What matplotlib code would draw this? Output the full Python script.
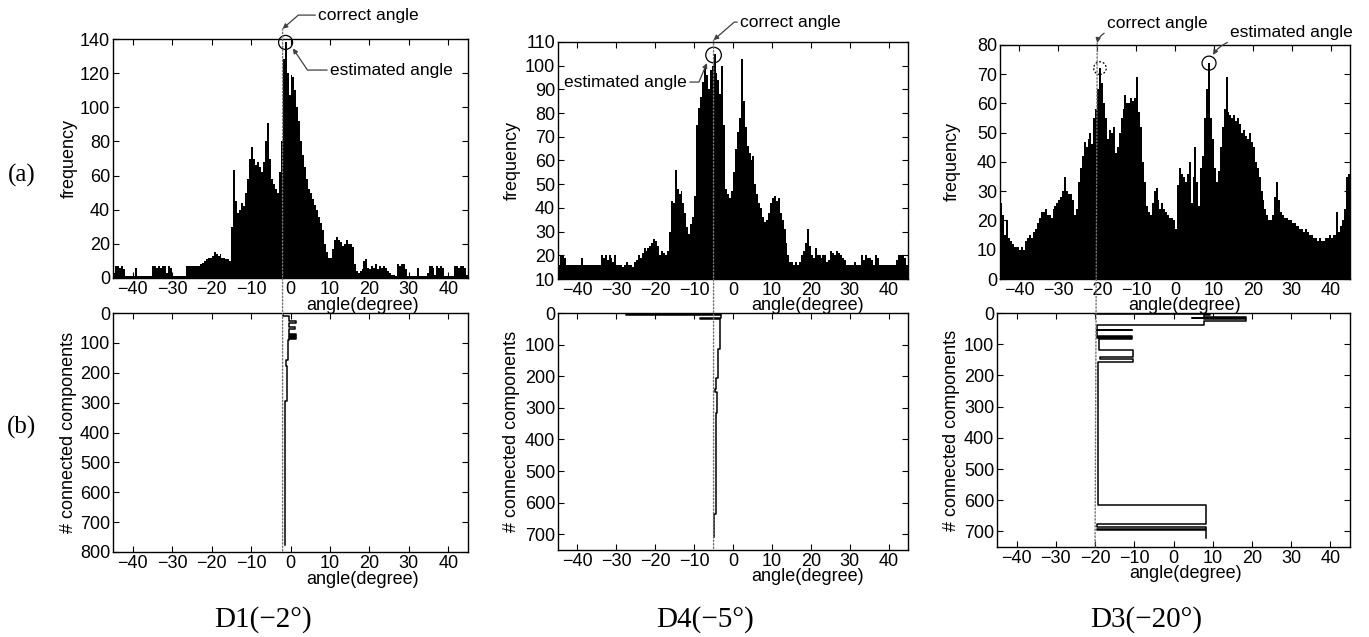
import matplotlib
matplotlib.use("Agg")
import matplotlib.pyplot as plt
import numpy as np
from matplotlib.patches import Circle, ConnectionPatch
from matplotlib.transforms import ScaledTranslation

plt.rcParams["font.family"] = ["Liberation Sans", "DejaVu Sans"]

# histogram bins: 0.5 degree wide, -45 .. 45
BIN_EDGES = np.arange(-45, 45, 0.5)
BIN_WIDTH = 0.5

# (a) angle histograms, frequency per bin
D1_FREQ = [
    3, 7, 7, 6, 7, 5, 1, 1, 1, 1,
    1, 6, 1, 1, 1, 1, 1, 1, 1, 1,
    7, 7, 6, 7, 6, 7, 7, 3, 7, 6,
    1, 1, 1, 1, 1, 1, 1, 7, 7, 7,
    7, 7, 7, 7, 8, 9, 10, 11, 12, 12,
    13, 15, 14, 13, 14, 12, 12, 11, 11, 10,
    30, 63, 45, 38, 40, 44, 42, 50, 58, 70,
    77, 70, 66, 68, 65, 62, 68, 80, 91, 70,
    58, 55, 52, 50, 62, 80, 128, 138, 120, 107,
    119, 118, 110, 100, 92, 80, 72, 65, 58, 52,
    50, 46, 43, 40, 36, 32, 28, 20, 15, 12,
    12, 17, 22, 24, 22, 21, 19, 20, 22, 20,
    20, 18, 8, 4, 3, 4, 5, 10, 11, 6,
    5, 7, 6, 8, 5, 7, 6, 7, 6, 4,
    3, 2, 2, 1, 8, 7, 8, 8, 5, 1,
    1, 1, 1, 1, 6, 1, 1, 1, 1, 3,
    7, 7, 6, 2, 7, 6, 7, 6, 1, 1,
    1, 1, 1, 7, 7, 6, 7, 7, 6, 2,
]
D4_FREQ = [
    16, 20, 20, 19, 16, 16, 16, 16, 16, 16,
    16, 16, 19, 16, 16, 16, 16, 16, 16, 16,
    16, 16, 20, 19, 20, 18, 20, 19, 17, 20,
    16, 16, 16, 15, 16, 17, 16, 16, 15, 17,
    18, 20, 19, 21, 23, 22, 23, 24, 25, 27,
    26, 24, 20, 22, 21, 20, 22, 30, 43, 42,
    56, 48, 46, 47, 42, 38, 32, 29, 33, 36,
    45, 75, 82, 87, 93, 99, 96, 90, 98, 100,
    105, 97, 94, 88, 100, 75, 48, 46, 44, 47,
    55, 65, 72, 78, 103, 85, 74, 66, 63, 60,
    62, 50, 46, 42, 40, 36, 34, 35, 38, 42,
    44, 45, 43, 44, 38, 35, 31, 25, 20, 17,
    17, 16, 17, 16, 17, 20, 22, 25, 31, 24,
    20, 19, 23, 20, 20, 19, 20, 20, 17, 18,
    22, 21, 20, 22, 21, 20, 19, 18, 16, 16,
    16, 16, 17, 16, 16, 16, 20, 18, 20, 19,
    19, 18, 16, 20, 19, 16, 16, 16, 16, 16,
    16, 16, 16, 16, 18, 20, 20, 20, 19, 16,
]
D3_FREQ = [
    26, 22, 15, 20, 14, 13, 12, 11, 11, 11,
    10, 11, 10, 13, 14, 15, 14, 16, 17, 19,
    21, 23, 23, 24, 22, 22, 21, 24, 25, 26,
    27, 28, 30, 35, 30, 29, 29, 27, 22, 24,
    33, 38, 42, 47, 45, 48, 50, 46, 55, 58,
    65, 72, 67, 60, 55, 48, 51, 50, 52, 43,
    45, 50, 55, 58, 63, 60, 60, 62, 61, 62,
    69, 57, 52, 40, 33, 25, 23, 22, 26, 30,
    31, 27, 24, 26, 24, 23, 22, 21, 21, 20,
    17, 32, 38, 36, 35, 33, 36, 40, 26, 35,
    45, 33, 25, 38, 42, 55, 65, 74, 55, 48,
    38, 33, 37, 45, 52, 58, 69, 57, 56, 55,
    56, 54, 55, 53, 50, 51, 49, 48, 50, 47,
    45, 40, 38, 35, 30, 27, 24, 22, 20, 20,
    22, 28, 33, 27, 23, 22, 21, 21, 20, 20,
    19, 19, 18, 18, 17, 17, 16, 17, 16, 15,
    15, 14, 14, 13, 14, 13, 13, 14, 14, 15,
    14, 15, 15, 23, 16, 18, 20, 24, 35, 36,
]

# (b) estimated angle while connected components are added:
# segment i holds angle EST[i] from N[i] to N[i+1]
D1_N = [0, 1, 10, 26, 34, 48, 52, 70, 74, 77, 81, 84, 88, 90, 158, 177, 294, 775]
D1_EST = [-3.5, -1.8, -0.5, 1.4, -0.5, 1.2, -0.5, 1.4, -0.5, 1.4, -0.5, 1.4,
          -0.5, -0.7, -1.2, -0.8, -1.4]
D4_N = [0, 3, 5, 15, 18, 113, 207, 239, 250, 318, 636, 709]
D4_EST = [-3.0, -27.4, -3.0, -8.5, -3.4, -3.8, -4.3, -4.6, -4.1, -4.5, -4.9]
D3_N = [0, 2, 6, 13, 15, 17, 20, 26, 40, 53, 56, 75, 77, 80, 82, 118, 141,
        147, 157, 616, 675, 687, 692, 695, 720]
D3_EST = [-20.0, 9.2, 7.7, 18.6, 4.6, 7.7, 18.6, 7.7, -19.4, -10.7, -19.4,
          -10.7, -19.4, -10.7, -19.0, -10.45, -18.85, -10.45, -19.2, 8.4,
          -19.4, 8.4, -19.4, 8.4]

CORRECT = [-2, -5, -20]
CAPTIONS = ["D1(\u22122\u00b0)", "D4(\u22125\u00b0)", "D3(\u221220\u00b0)"]
XTICKS = np.arange(-40, 41, 10)

W, H = 1369, 637
FS = 13
AFS = 12.5


def px_box(l, t, r, b):
    return [l / W, 1 - b / H, (r - l) / W, (b - t) / H]


def style(ax):
    ax.set_xlim(-45, 45)
    ax.set_xticks(XTICKS)
    ax.tick_params(direction="in", top=True, right=True, length=4,
                   labelsize=FS, pad=2)
    for s in ax.spines.values():
        s.set_linewidth(1.0)


def step_path(n, est):
    xs, ys = [], []
    for i, a in enumerate(est):
        xs += [a, a]
        ys += [n[i], n[i + 1]]
    return xs, ys


def circle(ax, x, y, r, ls="-"):
    c = Circle((0, 0), r, transform=ax.figure.dpi_scale_trans + ScaledTranslation(x, y, ax.transData),
               fill=False, ec="k", lw=0.9, ls=ls, clip_on=False)
    ax.add_artist(c)


fig = plt.figure(figsize=(W / 100, H / 100), dpi=100)

top_boxes = [px_box(113, 39, 468, 278), px_box(558, 42, 908, 279), px_box(1000, 45, 1350, 279)]
bot_boxes = [px_box(113, 313, 468, 552), px_box(558, 313, 908, 550), px_box(997, 313, 1350, 547)]
freqs = [D1_FREQ, D4_FREQ, D3_FREQ]
traces = [(D1_N, D1_EST), (D4_N, D4_EST), (D3_N, D3_EST)]
top_ylims = [(0, 140), (10, 110), (0, 80)]
top_ystep = [20, 10, 10]
bot_ymax = [800, 750, 750]
bot_yticks_max = [800, 700, 700]
ylab_x = [(-0.124, -0.124), (-0.131, -0.134), (-0.137, -0.130)]
xlab_x = [(0.704, 0.704), (0.714, 0.714), (0.528, 0.533)]
tip_y = [146, 110.8, 80.7]
caption_x = [263, 705, 1146]

ax_tops, ax_bots = [], []
for k in range(3):
    at = fig.add_axes(top_boxes[k])
    at.bar(BIN_EDGES + BIN_WIDTH / 2, freqs[k], width=BIN_WIDTH, color="k", linewidth=0)
    style(at)
    at.set_ylim(*top_ylims[k])
    at.set_yticks(np.arange(top_ylims[k][0], top_ylims[k][1] + 1, top_ystep[k]))
    at.set_xlabel("angle(degree)", fontsize=FS)
    at.xaxis.set_label_coords(xlab_x[k][0], -0.078)
    at.set_ylabel("frequency", fontsize=FS, va="center")
    at.yaxis.set_label_coords(ylab_x[k][0], 0.5)

    ab = fig.add_axes(bot_boxes[k])
    n, est = traces[k]
    xs, ys = step_path(n, est)
    ab.plot(xs, ys, color="k", lw=1.1)
    style(ab)
    ab.set_ylim(bot_ymax[k], 0)
    ab.set_yticks(np.arange(0, bot_yticks_max[k] + 1, 100))
    ab.set_xlabel("angle(degree)", fontsize=FS)
    ab.xaxis.set_label_coords(xlab_x[k][1], -0.078)
    ab.set_ylabel("# connected components", fontsize=FS, va="center")
    ab.yaxis.set_label_coords(ylab_x[k][1], 0.5)

    # dotted line at the correct angle through both panels
    con = ConnectionPatch(xyA=(CORRECT[k], tip_y[k]), coordsA=at.transData,
                          xyB=(CORRECT[k], bot_ymax[k]), coordsB=ab.transData,
                          linestyle=(0, (1, 1.5)), color="0.45", lw=1.0)
    fig.add_artist(con)

    fig.text(caption_x[k] / W, 1 - 620 / H, CAPTIONS[k], ha="center", va="center",
             fontsize=21, family=["Liberation Serif", "DejaVu Serif"])
    ax_tops.append(at)
    ax_bots.append(ab)

arrow = dict(arrowstyle="-|>", color="0.25", lw=0.9, mutation_scale=7,
             shrinkA=0, shrinkB=0)

# D1 annotations
a1 = ax_tops[0]
a1.annotate("correct angle", xy=(CORRECT[0], tip_y[0]), xytext=(7.0, 154),
            ha="left", va="center", fontsize=AFS, annotation_clip=False,
            arrowprops=dict(arrow, connectionstyle="angle,angleA=0,angleB=41,rad=0"))
a1.annotate("estimated angle", xy=(0.6, 134.5), xytext=(10.0, 121.8),
            ha="left", va="center", fontsize=AFS, annotation_clip=False,
            arrowprops=dict(arrow, connectionstyle="angle,angleA=0,angleB=124,rad=0"))
circle(a1, -1.25, 138, 0.07)

# D4 annotations
a2 = ax_tops[1]
a2.annotate("correct angle", xy=(CORRECT[1], tip_y[1]), xytext=(1.8, 118.4),
            ha="left", va="center", fontsize=AFS, annotation_clip=False,
            arrowprops=dict(arrow, connectionstyle="angle,angleA=0,angleB=41,rad=0"))
a2.annotate("estimated angle", xy=(-6.7, 101.1), xytext=(-11.8, 93.1),
            ha="right", va="center", fontsize=AFS, annotation_clip=False,
            arrowprops=dict(arrow, connectionstyle="angle,angleA=0,angleB=67,rad=0"))
circle(a2, -5.0, 104.5, 0.078)

# D3 annotations
a3 = ax_tops[2]
a3.annotate("correct angle", xy=(CORRECT[2], tip_y[2]), xytext=(-17.5, 87.2),
            ha="left", va="center", fontsize=AFS, annotation_clip=False,
            arrowprops=dict(arrow, connectionstyle="angle3,angleA=0,angleB=80"))
a3.annotate("estimated angle", xy=(9.8, 76.6), xytext=(14.1, 84.4),
            ha="left", va="center", fontsize=AFS, annotation_clip=False,
            arrowprops=dict(arrow, connectionstyle="angle3,angleA=0,angleB=60"))
circle(a3, 8.75, 73.8, 0.07)
circle(a3, -19.3, 72.1, 0.063, ls=(0, (1.5, 1.5)))

serif = ["Liberation Serif", "DejaVu Serif"]
fig.text(22 / W, 1 - 175 / H, "(a)", ha="center", va="center", fontsize=18, family=serif)
fig.text(22 / W, 1 - 427 / H, "(b)", ha="center", va="center", fontsize=18, family=serif)

fig.savefig("out.png", dpi=100)
